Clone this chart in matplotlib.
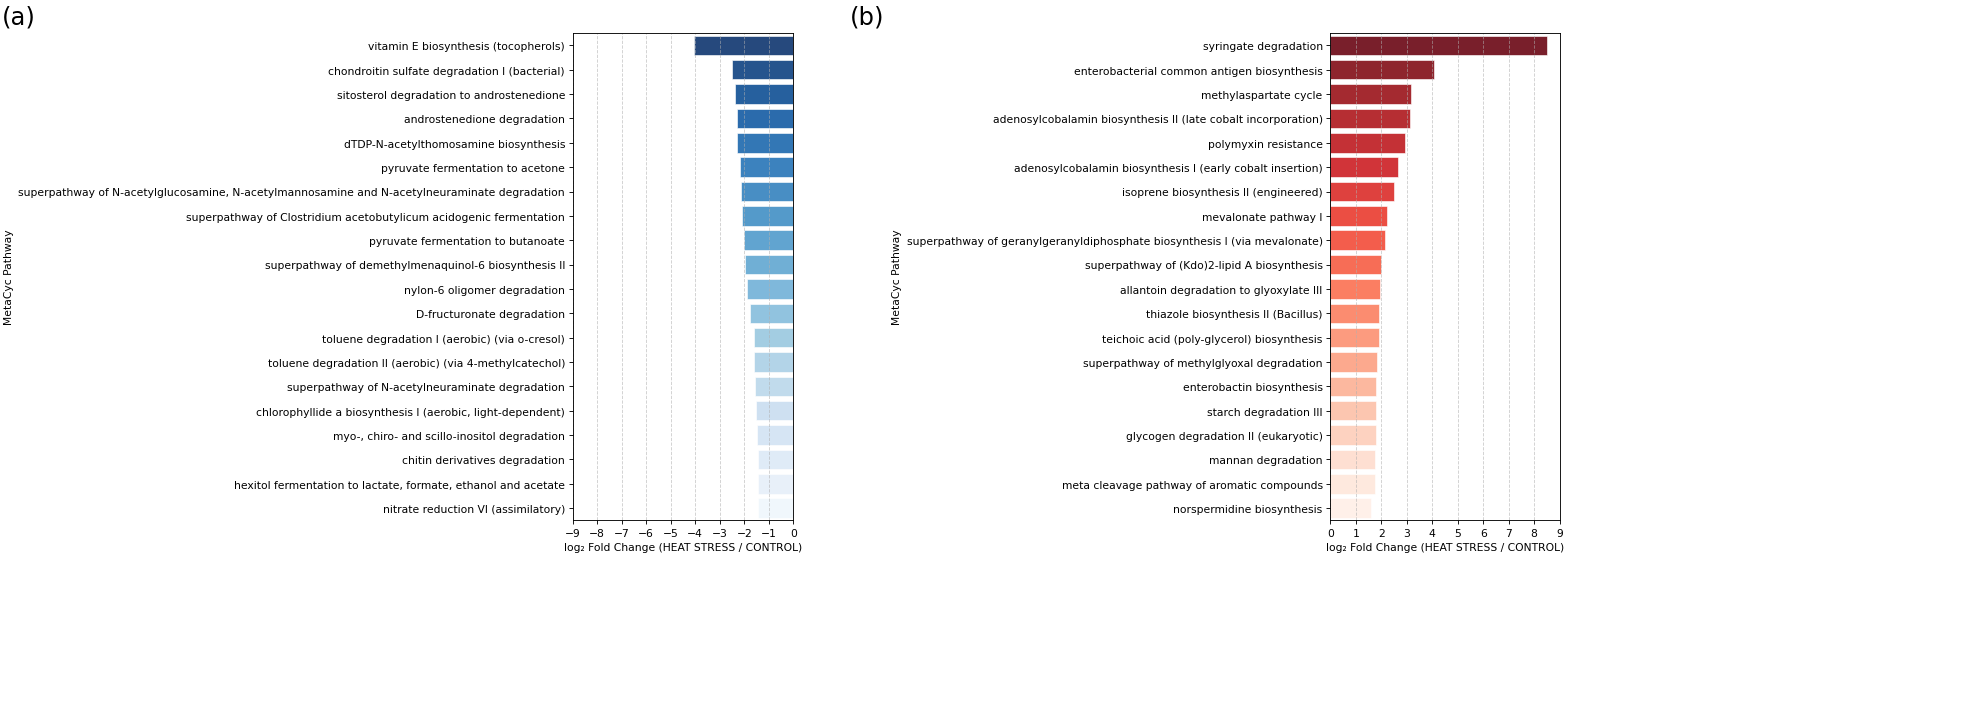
import numpy as np
import matplotlib
matplotlib.use("Agg")
import matplotlib.pyplot as plt


# ====================================================
# DATA
# ====================================================

down_pathways = [
    "vitamin E biosynthesis (tocopherols)",
    "chondroitin sulfate degradation I (bacterial)",
    "sitosterol degradation to androstenedione",
    "androstenedione degradation",
    "dTDP-N-acetylthomosamine biosynthesis",
    "pyruvate fermentation to acetone",
    "superpathway of N-acetylglucosamine, N-acetylmannosamine and N-acetylneuraminate degradation",
    "superpathway of Clostridium acetobutylicum acidogenic fermentation",
    "pyruvate fermentation to butanoate",
    "superpathway of demethylmenaquinol-6 biosynthesis II",
    "nylon-6 oligomer degradation",
    "D-fructuronate degradation",
    "toluene degradation I (aerobic) (via o-cresol)",
    "toluene degradation II (aerobic) (via 4-methylcatechol)",
    "superpathway of N-acetylneuraminate degradation",
    "chlorophyllide a biosynthesis I (aerobic, light-dependent)",
    "myo-, chiro- and scillo-inositol degradation",
    "chitin derivatives degradation",
    "hexitol fermentation to lactate, formate, ethanol and acetate",
    "nitrate reduction VI (assimilatory)",
]

down_log2fc = [
    -4.05, -2.52, -2.38, -2.31, -2.28,
    -2.17, -2.15, -2.09, -2.03, -1.97,
    -1.91, -1.77, -1.60, -1.60, -1.56,
    -1.51, -1.49, -1.46, -1.46, -1.44,
]

up_pathways = [
    "syringate degradation",
    "enterobacterial common antigen biosynthesis",
    "methylaspartate cycle",
    "adenosylcobalamin biosynthesis II (late cobalt incorporation)",
    "polymyxin resistance",
    "adenosylcobalamin biosynthesis I (early cobalt insertion)",
    "isoprene biosynthesis II (engineered)",
    "mevalonate pathway I",
    "superpathway of geranylgeranyldiphosphate biosynthesis I (via mevalonate)",
    "superpathway of (Kdo)2-lipid A biosynthesis",
    "allantoin degradation to glyoxylate III",
    "thiazole biosynthesis II (Bacillus)",
    "teichoic acid (poly-glycerol) biosynthesis",
    "superpathway of methylglyoxal degradation",
    "enterobactin biosynthesis",
    "starch degradation III",
    "glycogen degradation II (eukaryotic)",
    "mannan degradation",
    "meta cleavage pathway of aromatic compounds",
    "norspermidine biosynthesis",
]

up_log2fc = [
    8.51, 4.08, 3.16, 3.12, 2.93,
    2.64, 2.49, 2.21, 2.14, 2.00,
    1.94, 1.92, 1.92, 1.85, 1.81,
    1.79, 1.79, 1.77, 1.74, 1.58,
]

x_label = "log\u2082 Fold Change (HEAT STRESS / CONTROL)"
y_label = "MetaCyc Pathway"


# ====================================================
# FIGURE
# ====================================================

plt.rcParams["font.family"] = ["DejaVu Sans"]
plt.rcParams["font.size"] = 9.8

fig = plt.figure(
    figsize=(24.87, 8.86),
    dpi=79.33
)

ax_a = fig.add_axes([0.2903, 0.2585, 0.1118, 0.693])
ax_b = fig.add_axes([0.6743, 0.2585, 0.1162, 0.693])


def draw_panel(ax, names, values, cmap_name, xlim, ticks):

    n = len(values)
    colors = plt.get_cmap(cmap_name)(np.linspace(1.0, 0.04, n))

    ax.barh(
        np.arange(n),
        values,
        height=0.8,
        color=colors,
        alpha=0.88,
        edgecolor="white",
        linewidth=0.6
    )

    ax.set_yticks(np.arange(n))
    ax.set_yticklabels(names)
    ax.set_ylim(n - 0.5, -0.5)

    ax.set_xlim(*xlim)
    ax.set_xticks(ticks)

    ax.grid(
        axis="x",
        linestyle="--",
        color="#b0b0b0",
        alpha=0.6
    )

    ax.set_xlabel(x_label)
    ax.set_ylabel(y_label)


# ====================================================
# PANEL (a)
# ====================================================

draw_panel(
    ax_a,
    down_pathways,
    down_log2fc,
    "Blues",
    (-9, 0),
    np.arange(-9, 1)
)

# ====================================================
# PANEL (b)
# ====================================================

draw_panel(
    ax_b,
    up_pathways,
    up_log2fc,
    "Reds",
    (0, 9),
    np.arange(0, 10)
)

fig.text(0.001, 0.992, "(a)", fontsize=22, va="top", ha="left")
fig.text(0.431, 0.992, "(b)", fontsize=22, va="top", ha="left")

fig.savefig("out.png", dpi=79.33)
plt.close(fig)
